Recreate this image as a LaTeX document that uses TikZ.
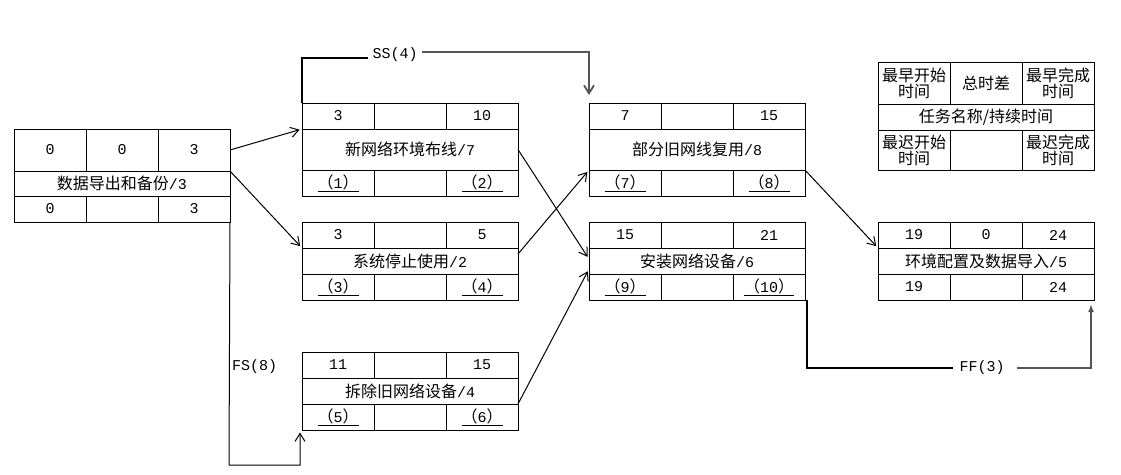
\documentclass[tikz,border=0pt]{standalone}
\usepackage{fontspec}
\setmainfont{Liberation Mono}
\newfontfamily\cjk{Noto Sans CJK SC}
\usetikzlibrary{positioning,arrows.meta}
\definecolor{linkGrey}{HTML}{555555}
\newcommand{\zhtext}[1]{{\fontsize{16}{16}\selectfont\cjk #1}}
\newcommand{\stepno}[1]{\underline{\zhtext{（}#1\zhtext{）}}}
\newcommand{\rowsizes}[3]{\def\hTop{#1pt}\def\hMid{#2pt}\def\hBot{#3pt}}
% name, top-left, top row (3), middle, bottom row (3)
\newcommand{\taskbox}[9]{%
  \node[cell,minimum height=\hTop,anchor=north west] (#1-tl) at (#2) {#3};
  \node[cell,minimum height=\hTop,right=0pt of #1-tl] (#1-tm) {#4};
  \node[cell,minimum height=\hTop,right=0pt of #1-tm] (#1-tr) {#5};
  \node[cell,minimum height=\hMid,minimum width=216pt,below=0pt of #1-tm] (#1-mid) {#6};
  \node[cell,minimum height=\hBot,below=0pt of #1-mid] (#1-bm) {#8};
  \node[cell,minimum height=\hBot,left=0pt of #1-bm] (#1-bl) {#7};
  \node[cell,minimum height=\hBot,right=0pt of #1-bm] (#1-br) {#9};
}

\begin{document}
\begin{tikzpicture}[x=1pt,y=-1pt,
  cell/.style={draw,line width=0.9pt,minimum width=72pt,inner sep=0pt,outer sep=0pt,
    align=center,font=\fontsize{15}{16}\selectfont},
  link/.style={line width=1pt,shorten >=2.5pt,-{Straight Barb[length=8pt,width=10pt]}},
  lag/.style={line width=1.8pt},
  lagtext/.style={font=\fontsize{15}{16}\selectfont,inner sep=4pt}]
\useasboundingbox (0,0) rectangle (1121,474);

% legend
\rowsizes{42}{26}{40}
\taskbox{key}{878,62}{\zhtext{最早开始}\\\zhtext{时间}}{\zhtext{总时差}}{\zhtext{最早完成}\\\zhtext{时间}}
  {\zhtext{任务名称/持续时间}}{\zhtext{最迟开始}\\\zhtext{时间}}{}{\zhtext{最迟完成}\\\zhtext{时间}}

% tasks
\rowsizes{42}{25}{26}
\taskbox{A}{14,129}{0}{0}{3}{\zhtext{数据导出和备份}/3}{0}{}{3}
\rowsizes{26}{41}{26}
\taskbox{B}{302,103}{3}{}{10}{\zhtext{新网络环境布线}/7}{\stepno{1}}{}{\stepno{2}}
\taskbox{C}{589,103}{7}{}{15}{\zhtext{部分旧网线复用}/8}{\stepno{7}}{}{\stepno{8}}
\rowsizes{26}{26}{26}
\taskbox{D}{589,222}{15}{}{21}{\zhtext{安装网络设备}/6}{\stepno{9}}{}{\stepno{10}}
\taskbox{E}{302,222}{3}{}{5}{\zhtext{系统停止使用}/2}{\stepno{3}}{}{\stepno{4}}
\taskbox{F}{302,352}{11}{}{15}{\zhtext{拆除旧网络设备}/4}{\stepno{5}}{}{\stepno{6}}
\taskbox{G}{878,222}{19}{0}{24}{\zhtext{环境配置及数据导入}/5}{19}{}{24}

% finish-start links
\draw[link] (A-tr.east) -- (B-mid.north west);
\draw[link] (A-tr.south east) -- (E-tl.south west);
\draw[link] (B-mid.east) -- ([yshift=2pt]D-mid.west);
\draw[link] ([yshift=7pt]E-mid.east) -- (C-bl.north west);
\draw[link] (F-mid.south east) -- ([yshift=-8pt]D-mid.west);
\draw[link] (C-br.north east) -- (G-tl.south west);

% lags
\node[lagtext] (ss) at (395,55) {SS(4)};
\draw[lag] (B-tl.north west) |- ([yshift=-3pt]ss.west);
\draw[lag,linkGrey,shorten >=8pt,-{Straight Barb[length=8pt,width=10pt]}]
  ([yshift=3pt]ss.east) -| (C-tl.north west);

\node[lagtext] (ff) at (982,368) {FF(3)};
\draw[lag] ([xshift=2pt]D-br.south east) |- ([xshift=-2pt]ff.west);
\draw[lag,linkGrey,shorten >=4pt,-{Latex[length=8pt,width=6pt]}]
  ([xshift=8pt]ff.east) -| ([xshift=-3pt]G-br.south east);

\coordinate (fsbase) at (229,465);
\node[lagtext,anchor=west,inner sep=0pt] (fs) at (232,367) {FS(8)};
\draw[link] (A-br.south east) -- (fsbase) -| ([xshift=-2pt]F-bl.south west);
\end{tikzpicture}
\end{document}
